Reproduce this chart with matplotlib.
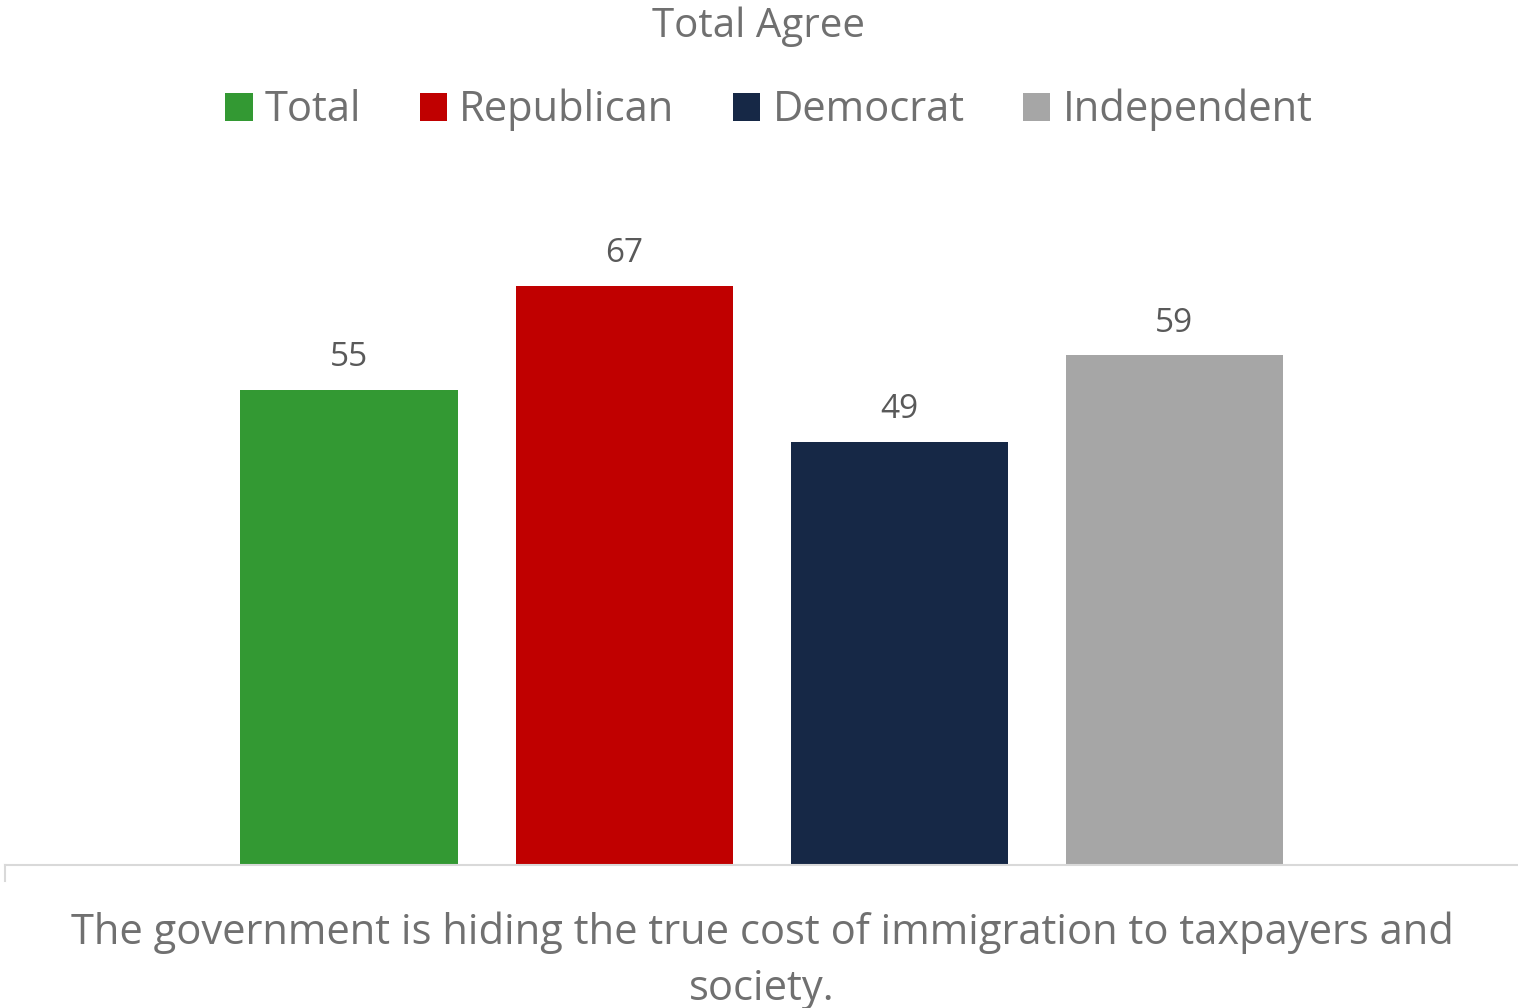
import matplotlib
matplotlib.use('Agg')
import matplotlib.pyplot as plt

title = 'Total Agree'
category = 'The government is hiding the true cost of immigration to taxpayers and\nsociety.'
series = ['Total', 'Republican', 'Democrat', 'Independent']
values = [55, 67, 49, 59]
colors = ['#339933', '#C00000', '#162846', '#A6A6A6']

plt.rcParams['font.family'] = ['Open Sans', 'DejaVu Sans']

W, H = 1518, 1008
fig = plt.figure(figsize=(W / 100, H / 100), dpi=100)
ax = fig.add_axes([5 / W, 1 - 865 / H, 1513 / W, 80 * 8.642 / H])

# one category, four bars side by side
bar_w = 217 / 1513
step = 275 / 1513
bars = []
for i, (name, v, c) in enumerate(zip(series, values, colors)):
    x = 0.5 + (i - 1.5) * step
    b = ax.bar(x, v, width=bar_w, color=c, label=name)
    bars.append(b)
    ax.annotate(str(v), (x, v), xytext=(0, 17), textcoords='offset points',
                ha='center', va='baseline', fontsize=24, color='#595959')

ax.set_xlim(0, 1)
ax.set_ylim(0, 80)
ax.set_yticks([])
ax.set_xticks([])
for s in ['top', 'right', 'left']:
    ax.spines[s].set_visible(False)
ax.spines['bottom'].set_color('#d9d9d9')
ax.spines['bottom'].set_linewidth(1.5)
# little boundary tick at the left end of the category axis
ax.plot([0, 0], [0, -1.8], color='#d9d9d9', lw=1.5, clip_on=False)

fig.text(0.5, 1 - 37 / H, title, ha='center', va='baseline', fontsize=29, color='#707070')
# baseline of the last line ("society.")
fig.text(762 / W, 1 - 1000 / H, category, ha='center', va='baseline', fontsize=30,
         color='#707070', linespacing=1.45)

fig.legend(handles=[b[0] for b in bars], labels=series, loc='center',
           bbox_to_anchor=(769 / W, 1 - 110 / H), ncol=4, frameon=False,
           fontsize=30, labelcolor='#707070', handlelength=0.65, handleheight=0.65,
           handletextpad=0.3, columnspacing=1.4)

fig.savefig('out.png', dpi=100)
